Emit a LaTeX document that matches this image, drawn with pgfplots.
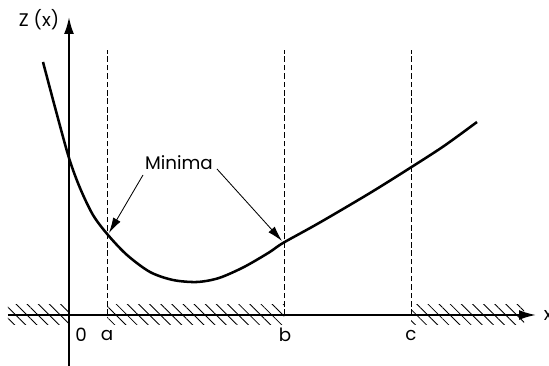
\documentclass[border=0pt]{standalone}
\usepackage{fontspec}
\setmainfont{Poppins}
\usepackage{pgfplots}
\pgfplotsset{compat=1.18}
\usetikzlibrary{arrows.meta,patterns.meta}

\begin{document}
\begin{tikzpicture}
\begin{axis}[scale only axis,width=13.725cm,height=9.15cm,
  xmin=-69,xmax=480,ymin=-51,ymax=315,
  axis lines=none,clip=false,font=\fontsize{13}{15}\selectfont]
% hatched strips along the x axis
\pgfplotsset{hatch/.style={draw=none,pattern={Lines[angle=-45,distance=5.6pt,line width=0.6pt]}}}
\addplot[hatch] coordinates {(-61,-10) (0,-10) (0,10) (-61,10)} -- cycle;
\addplot[hatch] coordinates {(38,-10) (215,-10) (215,10) (38,10)} -- cycle;
\addplot[hatch] coordinates {(342,-10) (455,-10) (455,10) (342,10)} -- cycle;
% dashed verticals at a, b, c
\addplot[black,line width=0.6pt,dash pattern=on 4pt off 2pt] coordinates {(38,0) (38,265)};
\addplot[black,line width=0.6pt,dash pattern=on 4pt off 2pt] coordinates {(215,0) (215,265)};
\addplot[black,line width=0.6pt,dash pattern=on 4pt off 2pt] coordinates {(342,0) (342,265)};
% axes
\addplot[black,line width=1.4pt,-{Latex[length=12pt,width=7pt]}] coordinates {(-61,0) (467,0)};
\addplot[black,line width=1.4pt,-{Latex[length=12pt,width=7pt]}] coordinates {(0,-51) (0,298)};
% Z(x)
\addplot[black,line width=1.8pt,smooth] coordinates {
  (-26,253) (-13,204) (0,157) (11,127) (24,100) (39,80) (58,60)
  (81,43) (104,35) (128,33) (150,37) (175,48) (200,62.5) (214,72) (250,92)
  (301,122) (341,147) (375,169) (408,193)};
% minima arrows
\addplot[black,line width=0.6pt,-{Latex[length=11pt,width=6pt]}] coordinates {(74,140) (40,82)};
\addplot[black,line width=0.6pt,-{Latex[length=11pt,width=6pt]}] coordinates {(148,146) (213,74)};
\node at (axis cs:110,152) {Minima};
\node at (axis cs:-30,295) {Z (x)};
\node at (axis cs:12,-20) {0};
\node at (axis cs:38,-20) {a};
\node at (axis cs:216,-20) {b};
\node at (axis cs:342,-20) {c};
\node[anchor=west] at (axis cs:470,0) {x};
\coordinate (SW) at (axis cs:-69,-51);
\coordinate (NE) at (axis cs:480,315);
\end{axis}
\pgfresetboundingbox
\path (SW) rectangle (NE);
\end{tikzpicture}
\end{document}
